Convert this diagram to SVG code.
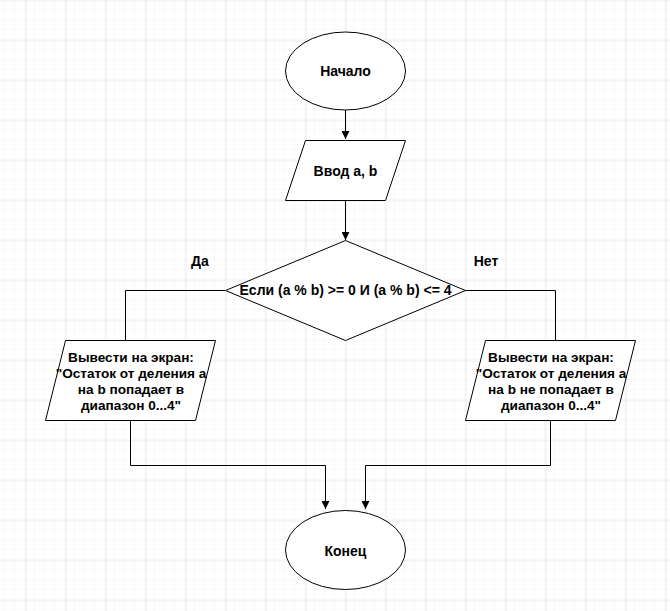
<svg xmlns="http://www.w3.org/2000/svg" width="670" height="611" viewBox="0 0 670 611">
<defs>
<pattern id="minor" width="10" height="10" patternUnits="userSpaceOnUse" x="5" y="0">
<path d="M10 0V10M0 10H10" fill="none" stroke="#f2f2f2" stroke-width="1"/>
</pattern>
<pattern id="major" width="40" height="40" patternUnits="userSpaceOnUse" x="25.5" y="0.5">
<path d="M0 0V40M0 0H40" fill="none" stroke="#dcdcdc" stroke-width="1"/>
</pattern>
<marker id="arr" viewBox="0 0 10 10" refX="10" refY="5" markerWidth="8" markerHeight="8" markerUnits="userSpaceOnUse" orient="auto">
<path d="M0 0L10 5L0 10Z" fill="#000"/>
</marker>
</defs>
<style>
.s{fill:#fff;stroke:#000;stroke-width:1}
.c{fill:none;stroke:#000;stroke-width:1}
.t{font-family:"Liberation Sans",Arial,sans-serif;font-size:14px;font-weight:bold;fill:#000;text-anchor:middle}
.p{font-size:13.6px}
</style>
<rect width="670" height="611" fill="#fff"/>
<rect width="670" height="611" fill="url(#minor)"/>
<rect width="670" height="611" fill="url(#major)"/>
<g id="connectors">
<path class="c" d="M345.5 110V139" marker-end="url(#arr)"/>
<path class="c" d="M345.5 200V240" marker-end="url(#arr)"/>
<path class="c" d="M225 290.5H125.5V340"/>
<path class="c" d="M465 290.5H555.5V340"/>
<path class="c" d="M130.5 420V465.5H325.5V509" marker-end="url(#arr)"/>
<path class="c" d="M550.5 420V465.5H365.5V509" marker-end="url(#arr)"/>
</g>
<g id="start">
<ellipse class="s" cx="345.5" cy="71" rx="60" ry="39"/>
<text class="t" x="345.5" y="76">Начало</text>
</g>
<g id="input">
<polygon class="s" points="305.5,140.5 405.5,140.5 385.5,200.5 285.5,200.5"/>
<text class="t" x="345.5" y="176">Ввод a, b</text>
</g>
<g id="decision">
<polygon class="s" points="345.5,240.5 465.5,290.5 345.5,340.5 225.5,290.5"/>
<text class="t" x="345.5" y="295">Если (a % b) &gt;= 0 И (a % b) &lt;= 4</text>
</g>
<g id="label-yes"><text class="t" x="200" y="266">Да</text></g>
<g id="label-no"><text class="t" x="486" y="266">Нет</text></g>
<g id="out-yes">
<polygon class="s" points="65.5,340.5 215.5,340.5 195.5,420.5 45.5,420.5"/>
<text class="t p" x="131" y="362">Вывести на экран:</text>
<text class="t p" x="131" y="378">"Остаток от деления а</text>
<text class="t p" x="131" y="394">на b попадает в</text>
<text class="t p" x="131" y="410">диапазон 0...4"</text>
</g>
<g id="out-no">
<polygon class="s" points="485.5,340.5 635.5,340.5 615.5,420.5 465.5,420.5"/>
<text class="t p" x="551" y="362">Вывести на экран:</text>
<text class="t p" x="551" y="378">"Остаток от деления а</text>
<text class="t p" x="551" y="394">на b не попадает в</text>
<text class="t p" x="551" y="410">диапазон 0...4"</text>
</g>
<g id="end">
<ellipse class="s" cx="345.5" cy="550" rx="60" ry="39.5"/>
<text class="t" x="345.5" y="556">Конец</text>
</g>
</svg>
